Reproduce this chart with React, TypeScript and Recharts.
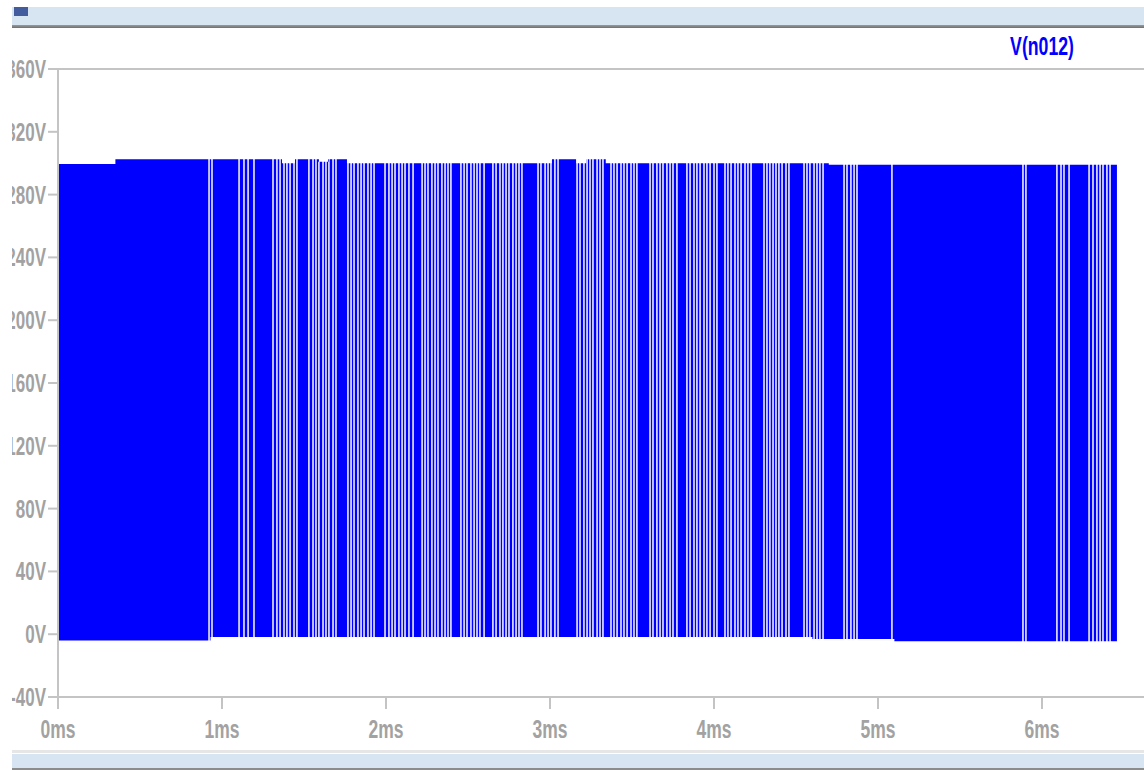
import React from "react";
import { ComposedChart, Area, XAxis, YAxis, ReferenceLine } from "recharts";

// Time (ms) of each visible white gap in the PWM trace
const gapTimes = [
  0.921, 0.939,
  1.104, 1.134, 1.159, 1.195, 1.311, 1.335, 1.354, 1.378, 1.396, 1.415, 1.439, 1.457,
  1.530, 1.555, 1.573, 1.591, 1.616, 1.634, 1.652, 1.677, 1.695,
  1.768, 1.787, 1.805, 1.829, 1.848, 1.866, 1.890, 1.909, 1.927,
  1.994, 2.018, 2.037, 2.055, 2.079, 2.098, 2.116, 2.140, 2.165,
  2.220, 2.238, 2.256, 2.280, 2.299, 2.317, 2.341, 2.360, 2.378, 2.396,
  2.457, 2.476, 2.494, 2.518, 2.537, 2.555, 2.573, 2.598,
  2.652, 2.671, 2.695, 2.713, 2.732, 2.750, 2.774, 2.793, 2.811, 2.829,
  2.927, 2.945, 2.970, 2.988, 3.006, 3.030, 3.049,
  3.165, 3.183, 3.207, 3.226, 3.244, 3.262, 3.287, 3.305, 3.323,
  3.372, 3.390, 3.409, 3.433, 3.451, 3.470, 3.494, 3.512, 3.530,
  3.610, 3.628, 3.652, 3.671, 3.689, 3.713, 3.732, 3.750, 3.774,
  3.835, 3.854, 3.878, 3.896, 3.915, 3.939, 3.957, 3.976, 4.000, 4.018,
  4.067, 4.085, 4.104, 4.128, 4.146, 4.165, 4.189, 4.207, 4.226,
  4.305, 4.323, 4.341, 4.360, 4.378, 4.396, 4.415, 4.439, 4.457,
  4.549, 4.567, 4.585, 4.610, 4.628, 4.646, 4.665,
  4.793, 4.811, 4.835, 4.854, 4.872,
  5.085,
  5.884, 5.902,
  6.091, 6.116, 6.134, 6.165,
  6.287, 6.311, 6.335, 6.354, 6.372, 6.396, 6.415,
];

// Upper envelope of the trace (V), as steps starting at these times (ms)
const topStarts = [0, 0.35, 1.366, 1.445, 1.591, 1.652, 1.762, 3.012, 3.159, 3.22, 3.34, 4.7];
const topVolts = [299.5, 302.5, 300, 302.5, 301, 302.5, 300, 302.5, 300, 302.5, 300, 299];

// Lower envelope of the trace (V)
const bottomStarts = [0, 0.93, 4.6, 5.1];
const bottomVolts = [-4, -1.8, -3, -4.5];

const traceEnd = 6.457;
const gapWidth = 0.009;

const xTicks = [0, 1, 2, 3, 4, 5, 6];
const xTickLabels = ["0ms", "1ms", "2ms", "3ms", "4ms", "5ms", "6ms"];
const yTicks = [-40, 0, 40, 80, 120, 160, 200, 240, 280, 320, 360];
const yTickLabels = ["-40V", "0V", "40V", "80V", "120V", "160V", "200V", "240V", "280V", "320V", "360V"];
const traceName = "V(n012)";

function levelAt(starts: number[], vals: number[], t: number, before: boolean) {
  let v = vals[0];
  for (let i = 0; i < starts.length; i++) {
    if (before ? starts[i] < t : starts[i] <= t) v = vals[i];
  }
  return v;
}
function rangeAt(t: number, before = false): [number, number] {
  return [levelAt(bottomStarts, bottomVolts, t, before), levelAt(topStarts, topVolts, t, before)];
}

type Ev = { t: number; kind: "b" | "g" };
const events: Ev[] = [
  ...topStarts.slice(1).map((t) => ({ t, kind: "b" as const })),
  ...bottomStarts.slice(1).map((t) => ({ t, kind: "b" as const })),
  ...gapTimes.map((t) => ({ t, kind: "g" as const })),
].sort((a, b) => a.t - b.t);

const data: { t: number; v: [number, number] | null }[] = [{ t: 0, v: rangeAt(0) }];
for (const e of events) {
  if (e.kind === "b") {
    data.push({ t: e.t, v: rangeAt(e.t, true) });
    data.push({ t: e.t, v: rangeAt(e.t) });
  } else {
    data.push({ t: e.t - gapWidth / 2, v: rangeAt(e.t) });
    data.push({ t: e.t, v: null });
    data.push({ t: e.t + gapWidth / 2, v: rangeAt(e.t) });
  }
}
data.push({ t: traceEnd, v: rangeAt(traceEnd) });

const labelFont = "'Liberation Sans', Arial, sans-serif";
const gray = "#a2a2a2";
const axisGray = "#c4c4c4";

const XTick = (props: any) => {
  const { x, y, payload } = props;
  const i = xTicks.indexOf(payload.value);
  return (
    <text
      transform={`translate(${x},${y + 27}) scale(0.7,1)`}
      textAnchor="middle"
      fill={gray}
      fontFamily={labelFont}
      fontWeight="bold"
      fontSize={25}
    >
      {xTickLabels[i]}
    </text>
  );
};

const YTick = (props: any) => {
  const { x, y, payload } = props;
  const i = yTicks.indexOf(payload.value);
  return (
    <text
      transform={`translate(${x},${y + 9}) scale(0.68,1)`}
      textAnchor="end"
      fill={gray}
      fontFamily={labelFont}
      fontWeight="bold"
      fontSize={25}
    >
      {yTickLabels[i]}
    </text>
  );
};

export default function App() {
  return (
    <div style={{ position: "absolute", left: 0, top: 0, width: 1144, height: 770, background: "#fff", overflow: "hidden" }}>
      {/* window header */}
      <div style={{ position: "absolute", left: 12, top: 0, width: 1132, height: 25, background: "#d7e4f1" }} />
      <div style={{ position: "absolute", left: 12, top: 25, width: 1132, height: 3, background: "linear-gradient(#9a9a9a,#6f6f6f)" }} />
      <div style={{ position: "absolute", left: 14, top: 7, width: 14, height: 9, background: "#1e3a8a", opacity: 0.8 }} />
      <div style={{ position: "absolute", left: 12, top: 0, width: 1132, height: 7, background: "#fff" }} />
      {/* footer */}
      <div style={{ position: "absolute", left: 12, top: 750, width: 1132, height: 3, background: "#e6e6e6" }} />
      <div style={{ position: "absolute", left: 12, top: 754, width: 1132, height: 14, background: "#d7e4f1" }} />
      <div style={{ position: "absolute", left: 12, top: 768, width: 1132, height: 2, background: "#8c8c8c" }} />

      <div style={{ position: "absolute", left: 0, top: 0 }}>
        <ComposedChart width={1144} height={770} data={data} margin={{ top: 69, right: 0, bottom: 0, left: 0 }}>
          <XAxis
            type="number"
            dataKey="t"
            domain={[0, 6.622]}
            ticks={xTicks}
            allowDataOverflow
            height={73}
            tickSize={12}
            tickMargin={2}
            axisLine={{ stroke: axisGray, strokeWidth: 2 }}
            tickLine={{ stroke: axisGray, strokeWidth: 2 }}
            tick={<XTick />}
            interval={0}
          />
          <YAxis
            type="number"
            domain={[-40, 360]}
            ticks={yTicks}
            allowDataOverflow
            width={58}
            tickSize={10}
            tickMargin={2}
            axisLine={{ stroke: axisGray, strokeWidth: 2 }}
            tickLine={{ stroke: axisGray, strokeWidth: 2 }}
            tick={<YTick />}
            interval={0}
          />
          <ReferenceLine y={360} stroke={axisGray} strokeWidth={2} />
          <Area
            dataKey="v"
            type="linear"
            stroke="none"
            fill="#0000ff"
            fillOpacity={1}
            connectNulls={false}
            dot={false}
            activeDot={false}
            isAnimationActive={false}
          />
        </ComposedChart>
      </div>

      <svg style={{ position: "absolute", left: 0, top: 0 }} width={1144} height={70}>
        <text
          transform="translate(1042,55) scale(0.68,1)"
          textAnchor="middle"
          fill="#0000ff"
          fontFamily={labelFont}
          fontWeight="bold"
          fontSize={26}
        >
          {traceName}
        </text>
      </svg>
      {/* left edge of the screenshot is blank */}
      <div style={{ position: "absolute", left: 0, top: 0, width: 12, height: 770, background: "#fff" }} />
    </div>
  );
}
